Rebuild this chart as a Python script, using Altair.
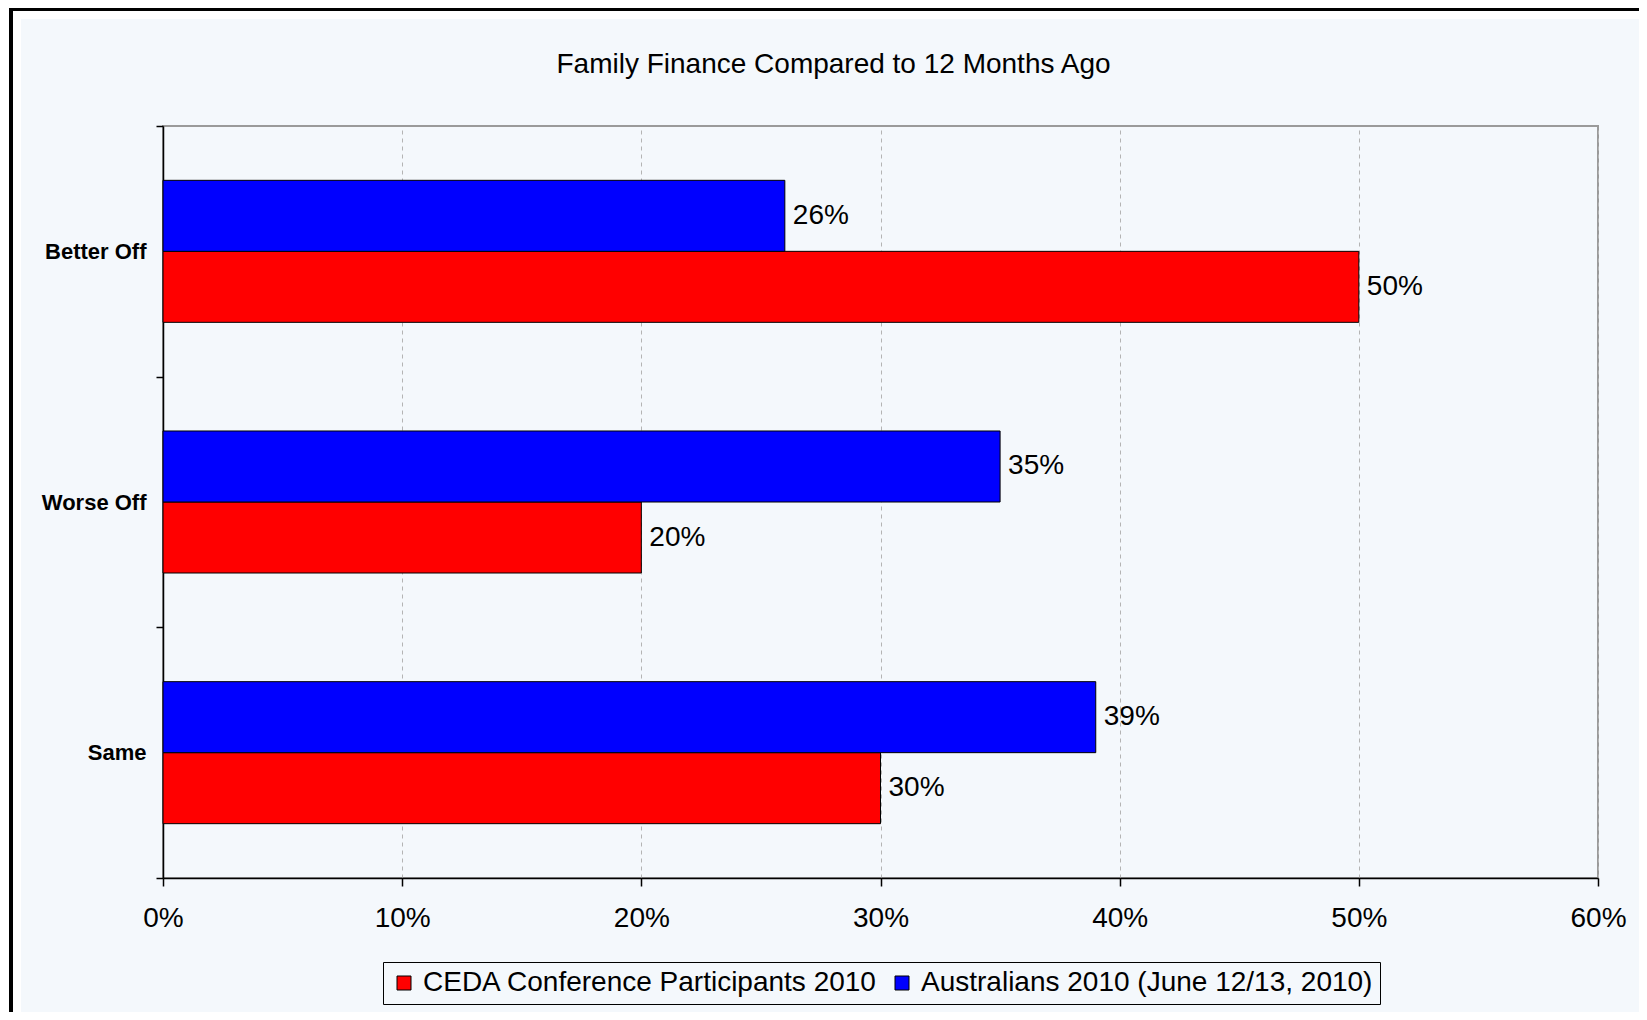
import altair as alt
import pandas as pd

# ---- data ----
categories = ["Better Off", "Worse Off", "Same"]
series_names = ["CEDA Conference Participants 2010", "Australians 2010 (June 12/13, 2010)"]
ceda_values = [0.50, 0.20, 0.30]
aus_values = [0.26, 0.35, 0.39]
series_colors = ["#FF0000", "#0000FF"]
x_ticks = [0, 0.1, 0.2, 0.3, 0.4, 0.5, 0.6]
title_text = "Family Finance Compared to 12 Months Ago"

rows = []
for c, v in zip(categories, ceda_values):
    rows.append({"cat": c, "series": series_names[0], "value": v})
for c, v in zip(categories, aus_values):
    rows.append({"cat": c, "series": series_names[1], "value": v})
df = pd.DataFrame(rows)

FONT = "Liberation Sans"
BG = "#F4F8FC"

base = alt.Chart(df).encode(
    y=alt.Y(
        "cat:N",
        sort=categories,
        scale=alt.Scale(paddingInner=0, paddingOuter=0),
        axis=alt.Axis(
            title=None, tickBand="extent", grid=False,
            labelFont=FONT, labelFontSize=22, labelFontWeight="bold", labelColor="black",
            labelPadding=10, tickSize=7, tickColor="black", tickWidth=1.5,
            domainColor="black", domainWidth=1.5,
        ),
    ),
    yOffset=alt.YOffset(
        "series:N",
        scale=alt.Scale(domain=[series_names[1], series_names[0]], paddingInner=0, paddingOuter=0.765),
    ),
    x=alt.X(
        "value:Q",
        scale=alt.Scale(domain=[0, 0.6], nice=False),
        axis=alt.Axis(
            title=None, values=x_ticks, format=".0%", labelFlush=False,
            labelFont=FONT, labelFontSize=28, labelColor="black", labelPadding=18,
            tickSize=8, tickColor="black", tickWidth=1.5,
            domainColor="black", domainWidth=1.5,
            grid=True, gridColor="#B4B4B4", gridDash=[4, 4], gridWidth=1,
        ),
    ),
)

bars = base.mark_bar(stroke="black", strokeWidth=1).encode(
    color=alt.Color(
        "series:N",
        scale=alt.Scale(domain=series_names, range=series_colors),
        legend=alt.Legend(
            title=None, orient="none", legendX=220, legendY=836, direction="horizontal",
            labelFont=FONT, labelFontSize=28, labelColor="black", labelLimit=900,
            symbolType="square", symbolSize=196, symbolStrokeColor="black", symbolStrokeWidth=1,
            symbolOpacity=1, labelOffset=5, columnPadding=10, padding=7,
            strokeColor="black",
        ),
    )
)

labels = base.mark_text(
    align="left", baseline="middle", dx=8, font=FONT, fontSize=28, color="black"
).encode(text=alt.Text("value:Q", format=".0%"))

frame_df = pd.DataFrame({"k": [0]})
white_band = alt.Chart(frame_df).mark_rect(fillOpacity=0, stroke="white", strokeWidth=20).encode(
    x=alt.value(-152), x2=alt.value(1600), y=alt.value(-117), y2=alt.value(1000)
)
black_frame = alt.Chart(frame_df).mark_rect(fillOpacity=0, stroke="black", strokeWidth=4).encode(
    x=alt.value(-152), x2=alt.value(1600), y=alt.value(-117), y2=alt.value(1000)
)

chart = alt.layer(white_band, black_frame, bars, labels).properties(
    width=1435,
    height=752,
    title=alt.Title(
        title_text, font=FONT, fontSize=28, fontWeight="normal", color="black",
        anchor="middle", frame="group", dx=-47, offset=-94, baseline="middle",
    ),
    padding={"left": 155, "top": 118, "right": 41, "bottom": 134},
    autosize=alt.AutoSizeParams(type="none"),
    background=BG,
).configure_view(stroke="#9A9A9A", strokeWidth=2)

chart.save("out.html", embed_options={"renderer": "svg", "actions": False})
